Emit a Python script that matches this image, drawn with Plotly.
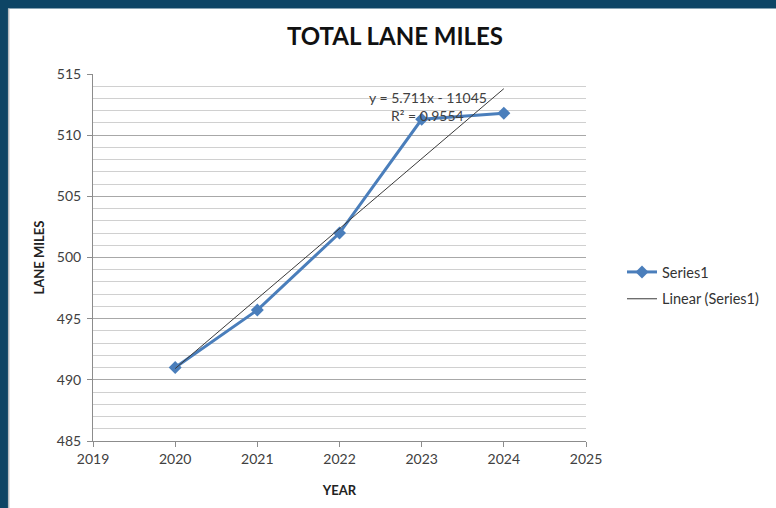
import numpy as np
import plotly.graph_objects as go

years = [2020, 2021, 2022, 2023, 2024]
lane_miles = [491.0, 495.7, 502.0, 511.3, 511.8]
x_ticks = [2019, 2020, 2021, 2022, 2023, 2024, 2025]
y_ticks = [485, 490, 495, 500, 505, 510, 515]
equation_text = "y = 5.711x - 11045"
r2_text = "R² = 0.9554"

slope, intercept = np.polyfit(years, lane_miles, 1)
trend_y = [slope * x + intercept for x in years]

W, H = 776, 508
L, R, T, B = 93, 587, 74, 441
pw, ph = R - L, B - T

def px_x(p):
    return (p - L) / pw

def px_y(p):
    return (B - p) / ph

fig = go.Figure()
fig.add_trace(go.Scatter(
    x=years, y=lane_miles, mode="lines+markers", name="Series1", legendgroup="a",
    line=dict(color="#4a7ebb", width=3),
    marker=dict(symbol="diamond", size=10, color="#4a7ebb"),
))
fig.add_trace(go.Scatter(
    x=years, y=trend_y, mode="lines", name="Linear (Series1)", legendgroup="b",
    line=dict(color="#3a3a3a", width=1),
))

font_fam = "Lato, 'Open Sans', sans-serif"
fig.update_layout(
    width=W, height=H,
    margin=dict(l=L, r=W - R, t=T, b=H - B, pad=0),
    paper_bgcolor="#0e4565",
    plot_bgcolor="rgba(0,0,0,0)",
    font=dict(family=font_fam, size=13, color="#404040"),
    title=dict(text="<b>TOTAL LANE MILES</b>", x=395 / W, xanchor="center",
               y=1 - 37 / H, yanchor="middle",
               font=dict(size=24, color="#111111", family=font_fam)),
    showlegend=True,
    legend=dict(x=px_x(622), y=px_y(256), xanchor="left", yanchor="top",
                bgcolor="rgba(0,0,0,0)", font=dict(size=14.5, color="#333333"),
                itemwidth=30, tracegroupgap=5),
    shapes=[dict(type="rect", xref="paper", yref="paper",
                 x0=px_x(8), x1=px_x(W + 10), y0=px_y(H + 10), y1=px_y(8.5),
                 fillcolor="white", line=dict(width=0), layer="below"),
            dict(type="line", xref="paper", yref="paper",
                 x0=px_x(8.5), x1=px_x(8.5), y0=px_y(H + 10), y1=px_y(8.5),
                 line=dict(color="#b8bcc0", width=1.5), layer="below")],
    xaxis=dict(range=[2019, 2025], tickvals=x_ticks, ticktext=[str(v) for v in x_ticks],
               showgrid=False, zeroline=False, showline=True, linecolor="#8c8c8c",
               ticks="outside", ticklen=5, tickcolor="#8c8c8c",
               tickfont=dict(size=14, color="#404040"),
               title=dict(text="<b>YEAR</b>", font=dict(size=13, color="#222222"), standoff=20)),
    yaxis=dict(range=[485, 515], tickvals=y_ticks, showgrid=True, gridcolor="#a8a8a8",
               gridwidth=1, zeroline=False, showline=True, linecolor="#8c8c8c",
               ticks="outside", ticklen=5, tickcolor="#8c8c8c",
               tickfont=dict(size=14, color="#404040"), ticklabelstandoff=3,
               minor=dict(dtick=1, showgrid=True, gridcolor="#d0d0d0", gridwidth=1),
               title=dict(text="<b>LANE MILES</b>", font=dict(size=13, color="#222222"), standoff=9)),
    annotations=[
        dict(text=equation_text, x=px_x(429), y=px_y(97), xref="paper", yref="paper",
             showarrow=False, font=dict(size=14, color="#404040"), xanchor="center", yanchor="middle"),
        dict(text=r2_text, x=px_x(428), y=px_y(115), xref="paper", yref="paper",
             showarrow=False, font=dict(size=14, color="#404040"), xanchor="center", yanchor="middle"),
    ],
)

fig.write_html("out.html", config={"displayModeBar": False},
               post_script="document.body.style.margin='0';")
